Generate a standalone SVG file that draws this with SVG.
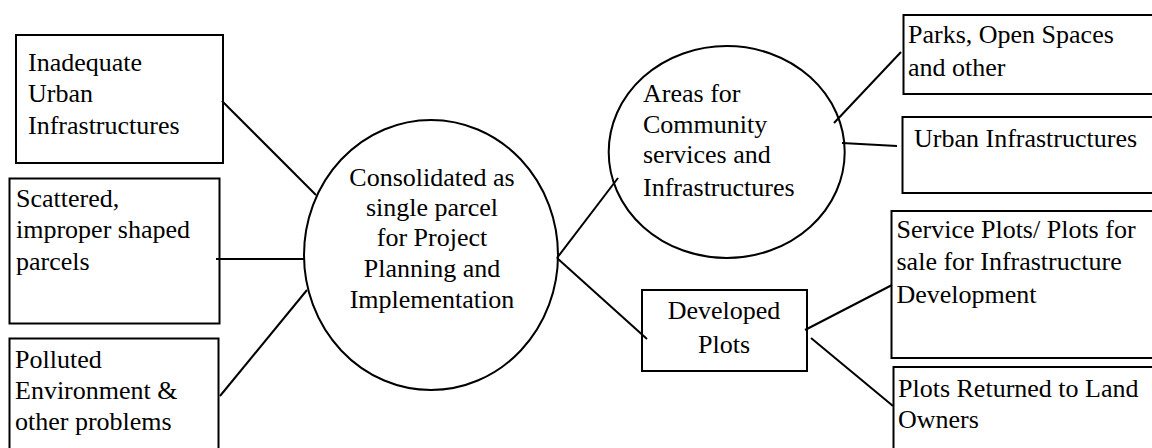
<svg xmlns="http://www.w3.org/2000/svg" width="1152" height="448" viewBox="0 0 1152 448">
<style>
.n{fill:#fff;stroke:#000;stroke-width:2}
.t{font-family:'Liberation Serif','Times New Roman','DejaVu Serif',serif;font-size:26px;fill:#000}
.c{text-anchor:middle}
.e line{stroke:#000;stroke-width:2}
</style>
<rect width="1152" height="448" fill="#fff"/>
<g id="n1" font-family="Liberation Serif, DejaVu Serif, serif"><rect class="n" x="16" y="35" width="207" height="128"/>
<text class="t" x="28" y="71">Inadequate</text><text class="t" x="28" y="102">Urban</text><text class="t" x="28" y="134">Infrastructures</text></g>
<g id="n2"><rect class="n" x="9.5" y="178.5" width="210" height="145"/>
<text class="t" x="16" y="207">Scattered,</text><text class="t" x="16" y="238">improper shaped</text><text class="t" x="16" y="270">parcels</text></g>
<g id="n3"><rect class="n" x="9.5" y="338.5" width="209" height="120"/>
<text class="t" x="15" y="368">Polluted</text><text class="t" x="15" y="399">Environment &amp;</text><text class="t" x="15" y="430">other problems</text></g>
<g id="n4"><ellipse class="n" cx="431" cy="255" rx="127" ry="135"/>
<text class="t c" x="432" y="186">Consolidated as</text><text class="t c" x="432" y="216">single parcel</text><text class="t c" x="432" y="246">for Project</text><text class="t c" x="432" y="277">Planning and</text><text class="t c" x="432" y="308">Implementation</text></g>
<g id="n5"><ellipse class="n" cx="726.7" cy="152" rx="118" ry="106"/>
<text class="t" x="643" y="102">Areas for</text><text class="t" x="643" y="133">Community</text><text class="t" x="643" y="163">services and</text><text class="t" x="643" y="196">Infrastructures</text></g>
<g id="n6"><rect class="n" x="642" y="290" width="165" height="81"/>
<text class="t c" x="724" y="319">Developed</text><text class="t c" x="724" y="353">Plots</text></g>
<g id="n7"><rect class="n" x="903.5" y="15" width="260" height="79"/>
<text class="t" x="908" y="43">Parks, Open Spaces</text><text class="t" x="908" y="76">and other</text></g>
<g id="n8"><rect class="n" x="902.5" y="117" width="260" height="76"/>
<text class="t" x="914" y="147">Urban Infrastructures</text></g>
<g id="n9"><rect class="n" x="891.5" y="211" width="270" height="147"/>
<text class="t" x="896.5" y="238">Service Plots/ Plots for</text><text class="t" x="896.5" y="270">sale for Infrastructure</text><text class="t" x="896.5" y="303">Development</text></g>
<g id="n10"><rect class="n" x="893.5" y="367" width="270" height="100"/>
<text class="t" x="898" y="397">Plots Returned to Land</text><text class="t" x="898" y="428">Owners</text></g>
<g id="edges" class="e">
<line x1="222" y1="101" x2="316" y2="195"/>
<line x1="216" y1="259" x2="304" y2="259"/>
<line x1="220" y1="396" x2="307" y2="290"/>
<line x1="557" y1="258" x2="618" y2="178"/>
<line x1="557" y1="258" x2="647" y2="339"/>
<line x1="834" y1="123" x2="901" y2="52"/>
<line x1="842" y1="143" x2="897" y2="146"/>
<line x1="805" y1="330" x2="892" y2="285"/>
<line x1="811" y1="338" x2="893" y2="406"/>
</g>
</svg>
